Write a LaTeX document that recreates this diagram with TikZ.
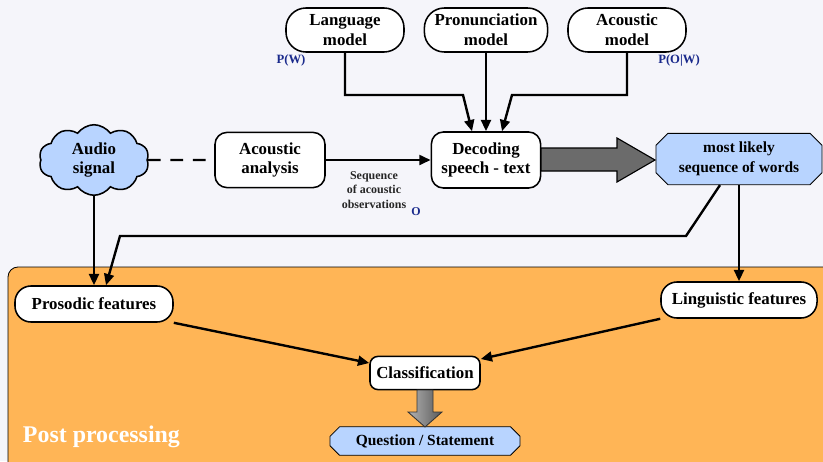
\documentclass[tikz,border=0pt]{standalone}
\usepackage{fontspec}
\setmainfont{Liberation Serif}
\usetikzlibrary{arrows.meta,shapes.symbols,shapes.misc}
\definecolor{bgcol}{HTML}{F5F5FA}
\definecolor{postcol}{HTML}{FFB556}
\definecolor{bluecol}{HTML}{B8D4FF}
\definecolor{probcol}{HTML}{1A2A8C}

\begin{document}
\begin{tikzpicture}[x=0.025cm,y=-0.025cm]
\fill[bgcol] (0,0) rectangle (823,461);
\useasboundingbox (0,0) rectangle (823,461);

% post processing area
\draw[fill=postcol, rounded corners=0.25cm, line width=0.6pt] (8,267) rectangle (840,480);
\node[anchor=west, text=white, font=\bfseries\fontsize{17}{20}\selectfont] (POST) at (18,437) {Post processing};

\begin{scope}[every node/.style={draw, line width=1.1pt, fill=white, align=center,
              font=\bfseries\fontsize{12}{14}\selectfont, rounded corners=0.3cm, inner sep=2pt}]
    \node[minimum width=2.95cm, minimum height=1.1cm, rounded corners=0.5cm] (LM) at (345,30) {Language\\model};
    \node[minimum width=3.08cm, minimum height=1.1cm, rounded corners=0.5cm] (PM) at (486,30) {Pronunciation\\model};
    \node[minimum width=2.95cm, minimum height=1.1cm, rounded corners=0.5cm] (AM) at (627,30) {Acoustic\\model};
    \node[minimum width=2.75cm, minimum height=1.38cm] (AA) at (270,160) {Acoustic\\analysis};
    \node[minimum width=2.73cm, minimum height=1.4cm] (DEC) at (486,160) {Decoding\\speech - text};
    \node[minimum width=3.95cm, minimum height=0.9cm, rounded corners=0.4cm] (PRO) at (94,304) {Prosodic features};
    \node[minimum width=3.9cm, minimum height=0.9cm, rounded corners=0.4cm] (LIN) at (739,300) {Linguistic features};
    \node[minimum width=2.75cm, minimum height=0.83cm, rounded corners=0.2cm] (CLA) at (425,373) {Classification};
    \node[cloud, cloud puffs=10, cloud puff arc=110, aspect=1.7, sharp corners, fill=bluecol,
          minimum width=2.75cm, minimum height=1.75cm] (AUD) at (94,160) {Audio\\signal};
    \node[chamfered rectangle, chamfered rectangle xsep=0.15cm, chamfered rectangle ysep=0.15cm,
          sharp corners, fill=bluecol, line width=0.6pt, font=\bfseries\fontsize{11}{14}\selectfont,
          minimum width=4.15cm, minimum height=1.2cm] (MLS) at (739,159) {most likely\\sequence of words};
    \node[chamfered rectangle, chamfered rectangle xsep=0.12cm, chamfered rectangle ysep=0.12cm,
          sharp corners, fill=bluecol, line width=0.6pt, font=\bfseries\fontsize{11}{13}\selectfont,
          minimum width=4.75cm, minimum height=0.7cm] (QS) at (425,441) {Question / Statement};
\end{scope}

% labels
\node[font=\bfseries\fontsize{8.5}{10.5}\selectfont, align=center, text=black!85] (SEQ) at (374,190) {Sequence\\of acoustic\\observations};
\node[font=\bfseries\fontsize{8.5}{10}\selectfont, text=probcol] (OBS) at (416,212) {O};
\node[font=\bfseries\fontsize{9}{10}\selectfont, text=probcol] (PW) at (291,60) {P(W)};
\node[font=\bfseries\fontsize{9}{10}\selectfont, text=probcol] (POW) at (679,60) {P(O|W)};

% corner points
\coordinate (LMK) at (463,95);
\coordinate (AMK) at (512,95);
\coordinate (MK1) at (686,236);
\coordinate (MK2) at (120,236);

\begin{scope}[>={Triangle[length=8pt,width=7pt]},
              every edge/.style={draw=black,line width=1.7pt}]
    \path [-, dash pattern=on 9pt off 7pt] (AUD.east) edge (AA.west);
    \path [->] (AA) edge (DEC);
    \path [->] (PM) edge (DEC);
    \path [->] (AUD.south) edge (AUD.south |- PRO.north);
    \path [->] (MLS.south) edge (MLS.south |- LIN.north);
    \path [->] (PRO.south east) edge ([yshift=0.25cm]CLA.west);
    \path [->] (LIN.south west) edge ([yshift=0.35cm]CLA.east);
    \draw [->, line width=1.7pt] (LM.south) |- (LMK) -- ([xshift=-0.35cm]DEC.north);
    \draw [->, line width=1.7pt] (AM.south) |- (AMK) -- ([xshift=0.4cm]DEC.north);
    \draw [->, line width=1.7pt] ([xshift=-0.475cm]MLS.south) -- (MK1) -- (MK2) -- ([xshift=0.3cm]PRO.north);
\end{scope}

% block arrows
\draw[line width=0.8pt, fill=black!58] (541,148) -- (617,148) -- (617,138) -- (655,160)
      -- (617,182) -- (617,171) -- (541,171) -- cycle;
\shade[left color=black!30, right color=black!65, draw=black!80, line width=0.6pt]
      (417,390) -- (433,390) -- (433,412) -- (442,412) -- (425,427) -- (408,412) -- (417,412) -- cycle;
\end{tikzpicture}
\end{document}
